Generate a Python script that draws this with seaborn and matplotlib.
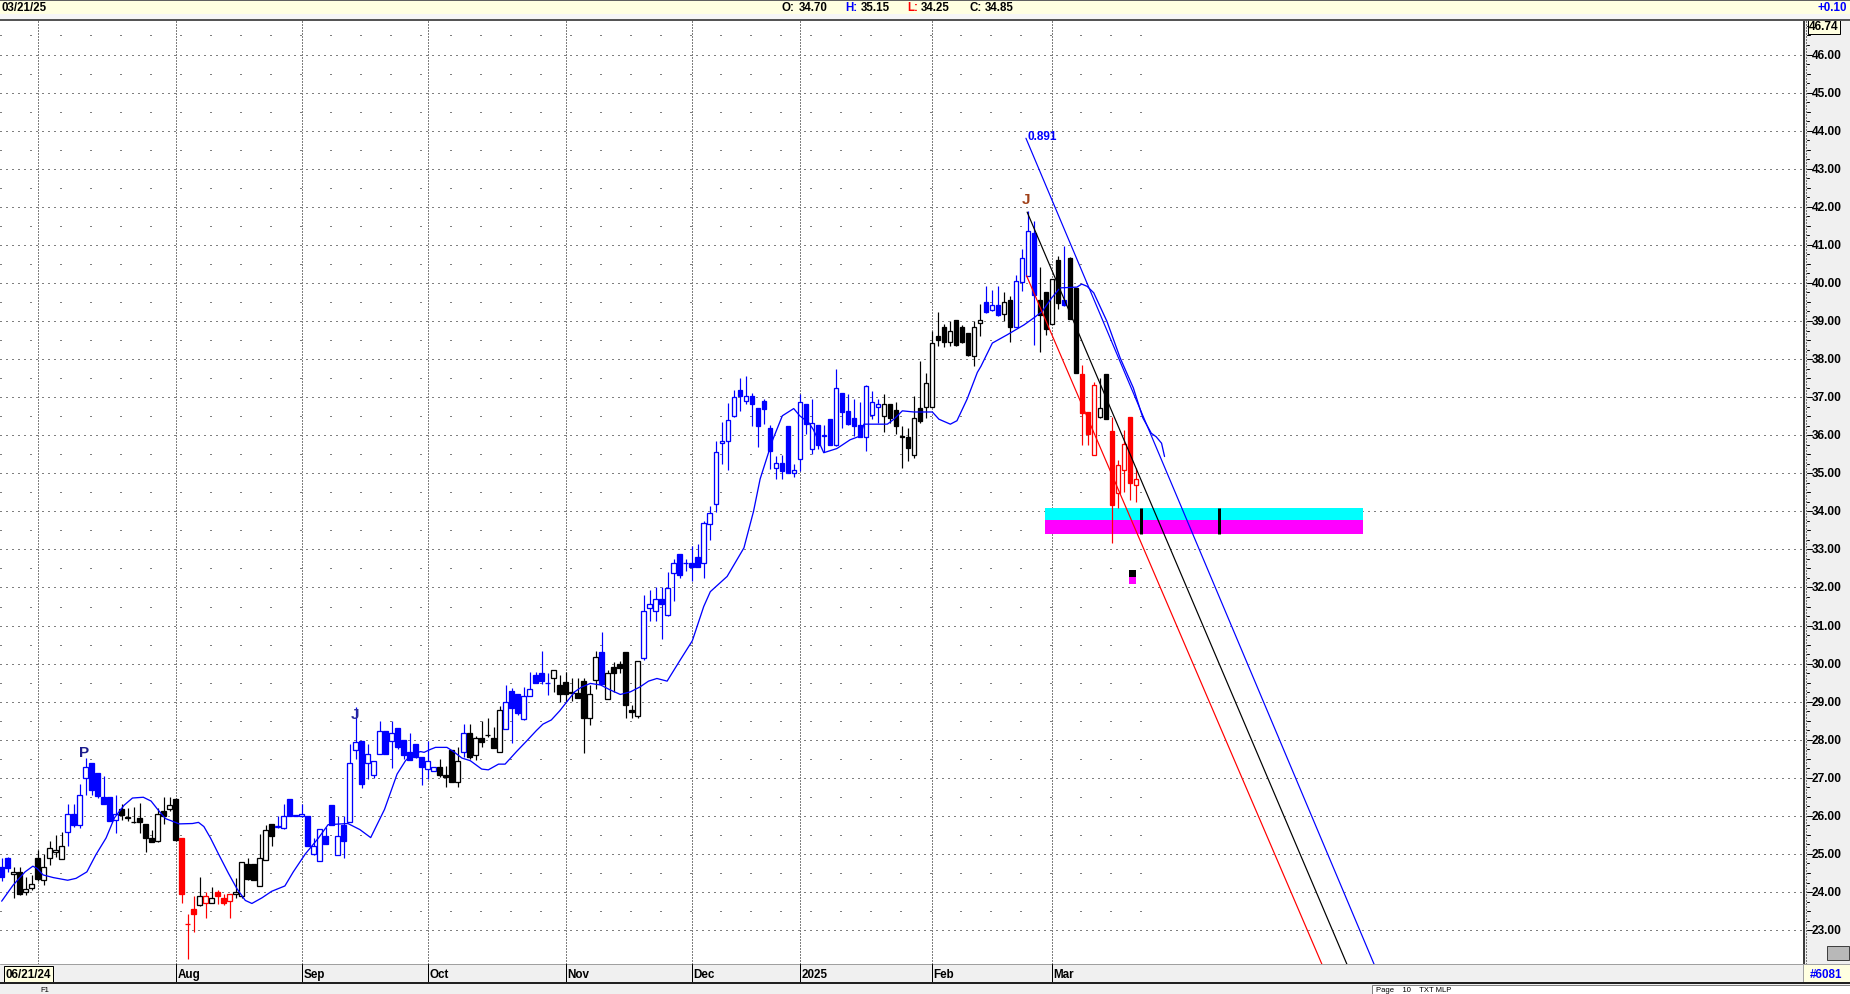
import matplotlib
matplotlib.use("Agg")
import matplotlib.pyplot as plt
import matplotlib.transforms as mtransforms
from matplotlib.patches import Rectangle
import numpy as np
import pandas as pd
import seaborn as sns

sns.set_theme(style="white")
plt.rcParams['font.family'] = ['Liberation Sans', 'DejaVu Sans']

# ---------------- data ----------------
opens = [24.67, 24.90, 24.47, 24.52, 24.00, 24.11, 24.90, 24.31, 24.89, 25.06,
         24.88, 25.57, 26.06, 25.77, 26.99, 27.39, 27.13, 26.49, 26.49, 25.88,
         26.18, 25.94, 25.84, 25.94, 25.79, 25.43, 25.33, 26.12, 26.17, 26.45,
         25.43, 23.16, 23.56, 23.65, 23.71, 23.71, 24.00, 23.85, 23.77, 23.95,
         23.90, 24.73, 24.73, 24.16, 24.83, 25.79, 25.72, 25.68, 26.45, 26.01,
         25.99, 25.99, 25.00, 24.82, 25.46, 26.28, 24.96, 25.77, 25.84, 27.74,
         27.97, 27.39, 27.07, 27.62, 28.24, 27.97, 28.30, 28.00, 27.69, 27.90,
         27.55, 27.23, 27.18, 27.29, 27.08, 27.74, 26.89, 27.67, 28.17, 27.61,
         28.05, 28.12, 28.05, 27.68, 28.29, 29.29, 29.21, 28.54, 29.16, 29.71,
         29.76, 29.50, 29.61, 29.45, 29.51, 29.23, 29.23, 29.55, 28.58, 29.57,
         30.30, 29.07, 29.92, 29.98, 30.30, 28.78, 28.63, 30.14, 31.47, 31.37,
         31.69, 31.28, 32.39, 32.89, 32.64, 32.64, 32.80, 32.64, 33.68, 34.19,
         35.79, 35.84, 36.50, 37.20, 36.89, 37.04, 36.72, 36.89, 36.20, 35.15,
         35.26, 36.23, 35.02, 35.37, 36.82, 35.63, 36.26, 35.98, 36.42, 35.74,
         37.12, 36.63, 36.46, 36.26, 35.96, 36.53, 36.75, 36.51, 36.81, 36.67,
         35.96, 35.96, 35.47, 36.72, 36.75, 36.75, 38.61, 38.83, 38.46, 39.03,
         38.83, 38.68, 38.07, 38.96, 39.50, 39.30, 39.41, 39.19, 39.54, 38.85,
         40.02, 40.19, 41.32, 39.54, 39.75, 38.93, 40.60, 39.54, 40.65, 39.87,
         37.61, 36.61, 35.48, 36.47, 37.61, 36.10, 34.49, 35.09, 36.49, 34.70]
highs = [24.90, 24.92, 24.67, 24.67, 24.40, 24.46, 25.11, 24.99, 25.33, 25.50,
         25.57, 26.32, 26.32, 26.83, 27.51, 27.39, 27.13, 27.04, 26.49, 26.56,
         26.30, 26.21, 26.23, 26.33, 25.79, 25.64, 26.21, 26.49, 26.49, 26.47,
         25.43, 23.43, 23.90, 24.40, 24.00, 24.14, 24.05, 23.96, 23.95, 24.36,
         24.78, 24.89, 24.73, 25.52, 25.77, 25.79, 25.99, 26.30, 26.45, 26.03,
         26.30, 25.99, 25.42, 25.66, 25.72, 26.28, 25.99, 26.01, 27.89, 28.86,
         27.97, 27.89, 27.44, 28.50, 28.24, 28.50, 28.30, 28.00, 28.17, 27.90,
         27.55, 27.96, 27.29, 27.49, 27.32, 27.74, 27.80, 28.41, 28.41, 28.10,
         28.50, 28.56, 28.34, 28.89, 29.45, 29.36, 29.21, 29.39, 29.77, 29.77,
         30.34, 29.76, 29.84, 29.71, 29.77, 29.61, 29.61, 29.61, 29.45, 30.32,
         30.84, 29.83, 30.04, 30.07, 30.30, 28.91, 30.07, 31.81, 31.94, 32.00,
         32.00, 32.40, 32.75, 32.89, 32.75, 33.10, 33.15, 33.74, 34.13, 35.84,
         36.35, 36.85, 37.20, 37.49, 37.55, 37.10, 36.72, 36.94, 36.27, 35.46,
         35.47, 36.23, 35.24, 37.08, 36.82, 36.96, 36.26, 36.26, 36.42, 37.74,
         37.12, 37.08, 36.96, 36.86, 37.32, 37.17, 36.96, 37.08, 36.81, 36.86,
         36.23, 36.18, 37.04, 37.96, 37.63, 38.75, 39.23, 38.92, 39.00, 39.03,
         38.89, 38.68, 39.00, 39.45, 39.91, 39.81, 39.91, 39.75, 39.65, 40.20,
         40.88, 41.89, 41.62, 40.41, 39.75, 40.11, 40.70, 40.96, 40.68, 39.87,
         37.85, 36.61, 37.39, 37.50, 37.61, 36.49, 35.35, 36.14, 36.49, 35.15]
lows = [24.29, 24.53, 23.85, 23.92, 23.92, 24.05, 24.29, 24.18, 24.71, 24.93,
        24.87, 25.20, 25.72, 25.68, 26.54, 26.56, 26.47, 26.30, 25.86, 25.55,
        25.90, 25.86, 25.81, 25.55, 25.04, 25.31, 25.31, 25.79, 26.12, 25.35,
        23.72, 22.25, 22.95, 23.63, 23.32, 23.70, 23.68, 23.65, 23.32, 23.85,
        23.85, 24.31, 24.31, 24.16, 24.83, 25.20, 25.68, 25.65, 26.01, 25.99,
        25.97, 25.21, 24.98, 24.82, 25.27, 25.77, 24.96, 24.90, 25.84, 27.49,
        26.74, 26.98, 26.99, 27.62, 27.62, 27.27, 27.75, 27.49, 27.47, 27.52,
        26.82, 26.96, 27.17, 27.01, 26.76, 26.89, 26.76, 27.54, 27.49, 27.47,
        27.82, 28.08, 27.78, 27.68, 28.28, 27.91, 28.66, 28.53, 29.14, 29.48,
        29.47, 29.17, 29.26, 29.00, 28.98, 29.03, 29.10, 27.65, 28.40, 29.33,
        29.46, 29.07, 29.26, 29.75, 28.58, 28.58, 28.58, 30.10, 31.11, 31.11,
        30.65, 31.26, 31.65, 32.26, 32.42, 32.18, 32.53, 32.25, 33.25, 33.98,
        35.25, 35.08, 36.47, 36.63, 36.81, 36.24, 35.68, 36.30, 35.10, 34.84,
        34.84, 35.00, 34.89, 35.06, 36.04, 35.50, 35.65, 35.56, 35.74, 35.72,
        36.20, 36.26, 35.98, 35.94, 35.59, 36.42, 36.33, 36.09, 36.32, 36.03,
        35.15, 35.32, 35.39, 36.33, 36.44, 36.75, 38.35, 38.31, 38.35, 38.35,
        38.42, 38.07, 37.81, 38.60, 39.21, 39.27, 39.12, 38.99, 38.46, 38.85,
        39.78, 40.19, 38.38, 38.18, 38.62, 38.93, 39.32, 39.39, 39.04, 37.63,
        35.75, 35.75, 35.48, 36.46, 36.43, 33.16, 34.08, 34.52, 34.30, 34.25]
closes = [24.40, 24.62, 24.52, 23.94, 24.07, 24.22, 24.34, 24.67, 25.17, 25.11,
          25.22, 26.06, 25.77, 26.56, 27.29, 26.69, 26.51, 26.32, 25.87, 26.06,
          26.02, 25.96, 25.83, 25.83, 25.43, 25.31, 26.06, 25.99, 26.28, 25.37,
          23.94, 23.15, 23.43, 23.90, 23.90, 23.85, 23.90, 23.71, 23.95, 24.00,
          24.78, 24.34, 24.31, 24.89, 25.62, 25.46, 25.72, 25.99, 26.01, 26.01,
          26.06, 25.21, 25.22, 25.66, 25.27, 25.77, 25.46, 25.33, 27.39, 27.95,
          26.83, 27.62, 27.44, 28.24, 27.62, 28.19, 27.82, 27.60, 27.47, 27.54,
          27.29, 27.44, 27.29, 27.08, 27.01, 26.89, 27.45, 28.18, 27.55, 28.05,
          27.95, 28.12, 27.78, 28.79, 29.00, 28.83, 28.70, 29.16, 29.34, 29.50,
          29.55, 29.48, 29.84, 29.20, 29.20, 29.23, 29.10, 28.58, 29.20, 30.18,
          29.46, 29.76, 29.76, 29.88, 28.91, 28.72, 30.07, 31.37, 31.57, 31.69,
          31.57, 31.98, 32.64, 32.33, 32.64, 32.53, 32.53, 33.69, 33.95, 35.55,
          35.84, 36.39, 37.00, 37.04, 37.04, 36.83, 36.25, 36.70, 35.58, 35.26,
          35.06, 35.00, 35.09, 36.86, 36.30, 36.31, 35.74, 35.98, 35.74, 37.23,
          36.61, 36.30, 36.25, 35.96, 37.28, 36.86, 36.81, 36.81, 36.46, 36.23,
          35.96, 35.67, 36.46, 36.37, 37.36, 38.41, 38.51, 38.46, 38.73, 38.38,
          38.46, 38.11, 38.83, 39.03, 39.24, 39.41, 39.15, 39.49, 38.85, 40.04,
          40.66, 41.36, 39.69, 39.15, 38.80, 40.11, 39.46, 39.41, 39.04, 37.63,
          36.58, 36.03, 37.31, 36.71, 36.43, 34.17, 35.22, 35.77, 34.74, 34.85]
# colour regime of each bar, run-length encoded (b=blue, k=black, r=red)
color_runs = [("b", 2), ("k", 9), ("b", 9), ("k", 10), ("r", 3), ("k", 1), ("r", 1),
              ("k", 1), ("r", 3), ("k", 7), ("b", 27), ("k", 4), ("b", 1), ("k", 6),
              ("b", 8), ("k", 8), ("b", 1), ("k", 6), ("b", 40), ("k", 17), ("b", 3),
              ("k", 2), ("b", 4), ("k", 4), ("b", 1), ("k", 2), ("r", 3), ("k", 2), ("r", 5)]

# displaced moving average
ma_x = [0, 1.9, 3.9, 5.2, 5.9, 6.9, 8.6, 11.0, 12.4, 14.2, 15.7, 17.4, 18.8, 20.4, 21.8,
        23.6, 24.9, 26.0, 27.3, 29.6, 31.8, 32.8, 33.7, 34.8, 36.2, 37.8, 39.2, 40.6, 41.7,
        43.4, 45.0, 47.2, 48.6, 50.6, 52.8, 54.4, 57.7, 59.7, 61.5, 63.8, 65.9, 67.3, 68.4,
        69.8, 70.4, 71.5, 72.3, 74.2, 75.3, 76.7, 78.1, 80.0, 81.1, 82.8, 83.9, 85.8, 87.5,
        89.1, 90.2, 91.6, 93.0, 94.1, 95.5, 96.6, 98.1, 99.8, 101.4, 103.1, 104.8, 106.4,
        107.8, 109.2, 110.9, 113.1, 115.1, 117.0, 118.1, 120.9, 123.7, 125.3, 126.4, 128.4,
        130.1, 132.0, 133.0, 134.5, 135.3, 137.0, 139.2, 141.4, 143.1, 143.7, 147.6, 148.7,
        150.1, 152.0, 155.1, 156.2, 158.1, 159.2, 160.9, 162.6, 163.2, 165.1, 167.6, 170.4,
        172.0, 173.4, 175.0, 176.4, 179.2, 180.0, 180.9, 182.0, 184.2, 186.4, 188.6, 190.2,
        191.6, 192.4, 193.3, 193.8]
ma_y = [23.76, 24.18, 24.53, 24.68, 24.62, 24.45, 24.38, 24.31, 24.36, 24.53, 24.98, 25.42,
        25.95, 26.28, 26.47, 26.49, 26.39, 26.17, 25.93, 25.79, 25.80, 25.83, 25.72, 25.42,
        24.98, 24.49, 24.09, 23.78, 23.70, 23.85, 24.02, 24.16, 24.53, 25.00, 25.42, 25.77,
        25.80, 25.64, 25.43, 26.17, 27.10, 27.45, 27.62, 27.69, 27.67, 27.75, 27.80, 27.80,
        27.69, 27.52, 27.45, 27.23, 27.21, 27.36, 27.36, 27.69, 27.97, 28.24, 28.41, 28.52,
        28.76, 28.98, 29.26, 29.38, 29.48, 29.44, 29.31, 29.19, 29.26, 29.39, 29.54, 29.61,
        29.54, 30.10, 30.60, 31.50, 31.89, 32.29, 33.04, 34.00, 34.85, 35.84, 36.51, 36.70,
        36.51, 36.33, 36.14, 35.54, 35.65, 35.88, 35.98, 36.29, 36.29, 36.42, 36.64, 36.61,
        36.61, 36.42, 36.29, 36.38, 36.95, 37.65, 37.81, 38.42, 38.64, 38.90, 39.08, 39.25,
        39.61, 39.87, 39.89, 39.97, 39.91, 39.74, 38.99, 38.03, 37.24, 36.45, 36.05, 35.96,
        35.79, 35.44]

# trend lines (start/end in bar-index / price)
trend_blue_x, trend_blue_y = [170.7, 229.0], [43.80, 22.00]
trend_black_x, trend_black_y = [170.9, 224.5], [41.86, 21.99]
trend_red_x, trend_red_y = [170.8, 220.5], [40.19, 21.93]

# target zone
zone_x = [173.9, 226.8]
zone_cyan = [33.76, 34.08]
zone_magenta = [33.40, 33.76]
zone_marks_x = [189.9, 202.9]
marker_x = 188.45
marker_black = [32.27, 32.46]
marker_magenta = [32.09, 32.27]

month_pos = [6, 29, 50, 71, 94, 115, 133, 155, 175]
month_lab = ["", "Aug", "Sep", "Oct", "Nov", "Dec", "2025", "Feb", "Mar"]
price_ticks = list(range(23, 47))

annotations = [("P", 13.8, 27.69, "#1c1c8c"), ("J", 58.8, 28.68, "#2a2a9a"),
               ("J", 170.7, 42.20, "#a04018")]

# ---------------- figure ----------------
W, H = 1850, 995
fig = plt.figure(figsize=(W / 100, H / 100), dpi=100)
fig.patch.set_facecolor("#f0f0f0")


def box(x0, y0, x1, y1):
    return [x0 / W, 1 - y1 / H, (x1 - x0) / W, (y1 - y0) / H]


PX = 0.72  # one pixel in points
XLIM = (-0.278, 300.2)
YLIM = (22.11, 46.88)

ax = fig.add_axes(box(0, 22, 1803, 965))
ax.set_facecolor("white")
ax.set_xlim(*XLIM)
ax.set_ylim(*YLIM)
for s in ax.spines.values():
    s.set_visible(False)
ax.set_xticks([])
ax.set_yticks([])

# grid
for p in price_ticks:
    ax.axhline(p, color="black", lw=PX, ls=(0, (1, 5)), zorder=0.5)
    ax.hlines(p + 0.5, XLIM[0], 190, color="black", lw=PX, ls=(0, (1, 29)), zorder=0.5)
for mx in month_pos:
    ax.axvline(mx, color="black", lw=PX, ls=(0, (1, 2)), zorder=0.6)

# zone
ax.add_patch(Rectangle((zone_x[0], zone_cyan[0]), zone_x[1] - zone_x[0], zone_cyan[1] - zone_cyan[0],
                       facecolor="#00ffff", edgecolor="none", zorder=1))
ax.add_patch(Rectangle((zone_x[0], zone_magenta[0]), zone_x[1] - zone_x[0],
                       zone_magenta[1] - zone_magenta[0], facecolor="#ff00ff", edgecolor="none", zorder=1))
ax.vlines(zone_marks_x, zone_magenta[0], zone_cyan[1], color="black", lw=3 * PX, zorder=6)
ax.add_patch(Rectangle((marker_x - 0.55, marker_black[0]), 1.1, marker_black[1] - marker_black[0],
                       facecolor="black", edgecolor="none", zorder=6))
ax.add_patch(Rectangle((marker_x - 0.55, marker_magenta[0]), 1.1, marker_magenta[1] - marker_magenta[0],
                       facecolor="#ff00ff", edgecolor="none", zorder=6))

# candles
cmap = {"b": "#0000ff", "k": "#000000", "r": "#ff0000"}
codes = []
for c, nrun in color_runs:
    codes += [c] * nrun
df = pd.DataFrame({"i": np.arange(len(opens)), "o": opens, "h": highs, "l": lows, "c": closes,
                   "col": [cmap[c] for c in codes]})
df["bottom"] = df[["o", "c"]].min(axis=1)
df["height"] = (df["o"] - df["c"]).abs().clip(lower=0.015)
df["face"] = np.where(df["c"] < df["o"], df["col"], "white")
ax.vlines(df["i"], df["l"], df["h"], colors=df["col"], lw=PX * 1.2, zorder=2)
ax.bar(df["i"], df["height"], bottom=df["bottom"], width=0.74, color=df["face"],
       edgecolor=df["col"], linewidth=PX * 1.3, zorder=3)

# moving average
sns.lineplot(x=ma_x, y=ma_y, ax=ax, color="#0000ff", lw=PX * 1.3, sort=False, zorder=4)

# trend lines
sns.lineplot(x=trend_blue_x, y=trend_blue_y, ax=ax, color="#0000ff", lw=PX * 1.2, zorder=5)
sns.lineplot(x=trend_black_x, y=trend_black_y, ax=ax, color="#000000", lw=PX * 1.2, zorder=5)
sns.lineplot(x=trend_red_x, y=trend_red_y, ax=ax, color="#ff0000", lw=PX * 1.2, zorder=5)
ax.text(trend_blue_x[0] + 0.2, trend_blue_y[0] + 0.05, "0.891", color="#0000ff", fontsize=8.5,
        fontweight="bold", ha="left", va="center", zorder=7)
for t, xx, yy, col in annotations:
    ax.text(xx, yy, t, color=col, fontsize=11, fontweight="bold", ha="center", va="center", zorder=7)
ax.set_xlim(*XLIM)
ax.set_ylim(*YLIM)

# right price panel
axr = fig.add_axes(box(1803, 22, 1850, 965))
axr.set_facecolor("#f0f0f0")
axr.set_xlim(0, 47)
axr.set_ylim(*YLIM)
axr.set_xticks([])
axr.set_yticks([])
for s in axr.spines.values():
    s.set_visible(False)
axr.axvline(0.6, color="black", lw=1.5 * PX)
axr.axvline(2.5, color="black", lw=PX, ls=(0, (1, 2)))
for p in price_ticks:
    axr.plot([3.5, 9], [p, p], color="black", lw=PX)
    axr.plot([3.5, 6.5], [p + 0.5, p + 0.5], color="black", lw=PX)
    axr.plot([3.5, 5.5], [p + 0.25, p + 0.25], color="black", lw=PX)
    axr.plot([3.5, 5.5], [p + 0.75, p + 0.75], color="black", lw=PX)
    axr.text(9.0, p, f"{p:.2f}", fontsize=8.6, fontweight="bold", ha="left", va="center", color="black")
axr.text(21, 46.74, "46.74", fontsize=8.6, fontweight="bold", ha="center", va="center", color="black",
         bbox=dict(boxstyle="square,pad=0.1", facecolor="#ffffe1", edgecolor="black", lw=PX))
axr.add_patch(Rectangle((24, YLIM[0] + 0.1), 22, 0.38, facecolor="#b8b8b8", edgecolor="#404040", lw=PX))

# top bar
axt = fig.add_axes(box(0, 0, 1850, 22))
axt.set_xlim(0, 1850)
axt.set_ylim(22, 0)
axt.axis("off")
axt.add_patch(Rectangle((0, 0), 1850, 1.5, facecolor="#606060", edgecolor="none"))
axt.add_patch(Rectangle((0, 1.5), 1850, 13.5, facecolor="#ffffe1", edgecolor="none"))
axt.add_patch(Rectangle((0, 15), 1850, 4.5, facecolor="#f6f6f6", edgecolor="none"))
axt.add_patch(Rectangle((0, 19.5), 1850, 2.5, facecolor="#555555", edgecolor="none"))
tfs = 8.3
tw = "bold"
axt.text(2, 8.3, "03/21/25", fontsize=tfs, fontweight=tw, ha="left", va="center", color="black")
axt.text(782, 8.3, "O:", fontsize=tfs, fontweight=tw, ha="left", va="center", color="black")
axt.text(799, 8.3, "34.70", fontsize=tfs, fontweight=tw, ha="left", va="center", color="black")
axt.text(845, 8.3, "H:", fontsize=tfs, fontweight=tw, ha="left", va="center", color="#0000ff")
axt.text(861, 8.3, "35.15", fontsize=tfs, fontweight=tw, ha="left", va="center", color="black")
axt.text(907, 8.3, "L:", fontsize=tfs, fontweight=tw, ha="left", va="center", color="#ff0000")
axt.text(921, 8.3, "34.25", fontsize=tfs, fontweight=tw, ha="left", va="center", color="black")
axt.text(970, 8.3, "C:", fontsize=tfs, fontweight=tw, ha="left", va="center", color="black")
axt.text(985, 8.3, "34.85", fontsize=tfs, fontweight=tw, ha="left", va="center", color="black")
axt.text(1847, 8.3, "+0.10", fontsize=tfs, fontweight=tw, ha="right", va="center", color="#0000ff")

# bottom date bar
axb = fig.add_axes(box(0, 965, 1803, 983))
axb.set_facecolor("#f0f0f0")
axb.set_xlim(*XLIM)
axb.set_ylim(0, 1)
axb.set_xticks([])
axb.set_yticks([])
for s in axb.spines.values():
    s.set_visible(False)
axb.axhline(0.98, color="#a0a0a0", lw=PX)
off = mtransforms.offset_copy(axb.transData, fig=fig, x=2, y=0, units="dots")
for mx, lab in zip(month_pos[1:], month_lab[1:]):
    axb.axvline(mx, color="black", lw=PX)
    axb.text(mx, 0.45, lab, transform=off, fontsize=8.4, fontweight="bold", ha="left", va="center",
             color="black")
axb.text(0.6, 0.45, "06/21/24", fontsize=8.4, fontweight="bold", ha="left", va="center", color="black",
         bbox=dict(boxstyle="square,pad=0.15", facecolor="#ffffe1", edgecolor="black", lw=PX))

# bottom-right id box
axid = fig.add_axes(box(1803, 965, 1850, 983))
axid.set_facecolor("#ffffe1")
axid.set_xticks([])
axid.set_yticks([])
for s in axid.spines.values():
    s.set_edgecolor("#a0a0a0")
    s.set_linewidth(PX)
axid.text(0.5, 0.45, "#6081", fontsize=8.4, fontweight="bold", ha="center", va="center", color="#0000ff",
          transform=axid.transAxes)

# status strip
axs = fig.add_axes(box(0, 983, 1850, 995))
axs.set_xlim(0, 1850)
axs.set_ylim(12, 0)
axs.axis("off")
axs.add_patch(Rectangle((0, 0), 1850, 2, facecolor="#202020", edgecolor="none"))
axs.add_patch(Rectangle((1372, 3), 478, 9, facecolor="white", edgecolor="#808080", lw=PX))
axs.text(40, 7.3, "F1", fontsize=5.5, ha="left", va="center", color="black")
axs.text(1376, 7.6, "Page    10    TXT MLP", fontsize=5.5, ha="left", va="center", color="black")

fig.savefig("out.png", dpi=100, facecolor=fig.get_facecolor())
